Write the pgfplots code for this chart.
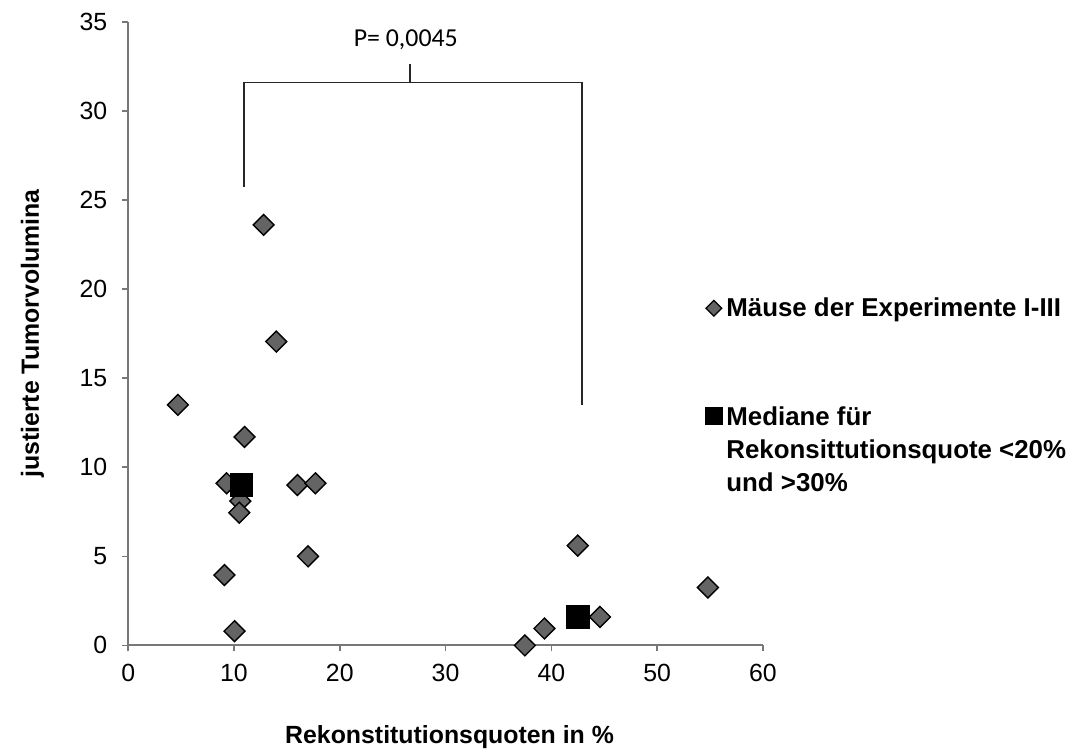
\documentclass[border=0pt]{standalone}
\usepackage{pgfplots}
\pgfplotsset{compat=1.18}
\usepackage{fontspec}
\setmainfont{Liberation Sans}
\newfontfamily\carlito{Carlito}
\definecolor{dfill}{RGB}{100,100,100}
\definecolor{axgray}{RGB}{120,120,120}
\begin{document}
\begin{tikzpicture}
\begin{axis}[
  scale only axis,
  width=318bp, height=312.5bp,
  xmin=0, xmax=60, ymin=0, ymax=35,
  xtick={0,10,...,60}, ytick={0,5,...,35},
  axis x line=bottom, axis y line=left,
  axis line style={-, draw=axgray, line width=1bp},
  tick style={draw=axgray, line width=0.8bp},
  tick align=outside, major tick length=3bp,
  /pgf/number format/assume math mode=true,
  ticklabel style={font=\fontsize{12.5}{15}\selectfont},
  yticklabel style={xshift=-4bp},
  xticklabel style={yshift=-3bp},
  clip=false,
  xlabel={Rekonstitutionsquoten in \%},
  ylabel={justierte Tumorvolumina},
  xlabel style={font=\bfseries\fontsize{12.5}{15}\selectfont, at={(axis description cs:0.5,0)}, anchor=center, yshift=-46bp, xshift=2bp},
  ylabel style={font=\bfseries\fontsize{12.5}{15}\selectfont, at={(axis description cs:0,0.5)}, anchor=center, yshift=48bp},
  legend style={at={(axis cs:53.95,20.0)}, anchor=north west, draw=none, fill=none,
    font=\bfseries\fontsize{13}{16.5}\selectfont, row sep=38bp,
    cells={anchor=base west}},
  legend cell align=left,
]
\addplot[only marks, mark=square*, mark size=3.7bp,
  mark options={rotate=45, fill=dfill, draw=black, line width=0.7bp}, forget plot]
  coordinates {
  (4.7,13.5) (12.8,23.6) (14.0,17.05) (11.0,11.7) (9.3,9.1) (10.6,8.1)
  (10.5,7.45) (16.0,9.0) (17.7,9.1) (17.0,5.0) (9.1,3.95) (10.05,0.8)
  (37.5,0.0) (39.35,0.95) (42.5,5.6) (44.6,1.6) (54.8,3.25)
  };
\addplot[only marks, mark=square*, mark size=5.6bp,
  mark options={fill=black, draw=black}, forget plot]
  coordinates { (10.7,9.0) (42.5,1.6) };
\addlegendimage{only marks, mark=square*, mark size=2.8bp, mark options={rotate=45, fill=dfill, draw=black, line width=0.6bp}}
\addlegendentry{Mäuse der Experimente I-III}
\addlegendimage{only marks, mark=square*, mark size=4.3bp, mark options={fill=black, draw=black}}
\addlegendentry{\begin{tabular}[t]{@{}l@{}}Mediane für\\Rekonsittutionsquote <20\%\\und >30\%\end{tabular}}
\draw[black!85, line width=0.8bp] (axis cs:10.93,25.7) -- (axis cs:10.93,31.6) -- (axis cs:42.9,31.6) -- (axis cs:42.9,13.5);
\draw[black!85, line width=0.8bp] (axis cs:26.64,31.6) -- (axis cs:26.64,32.6);
\node[font=\carlito\fontsize{13}{15}\selectfont] at (axis cs:26.24,33.98) {P= 0,0045};
\path (axis cs:-12.12,-5.69) rectangle (axis cs:89.39,36.22);
\end{axis}
\end{tikzpicture}
\end{document}
